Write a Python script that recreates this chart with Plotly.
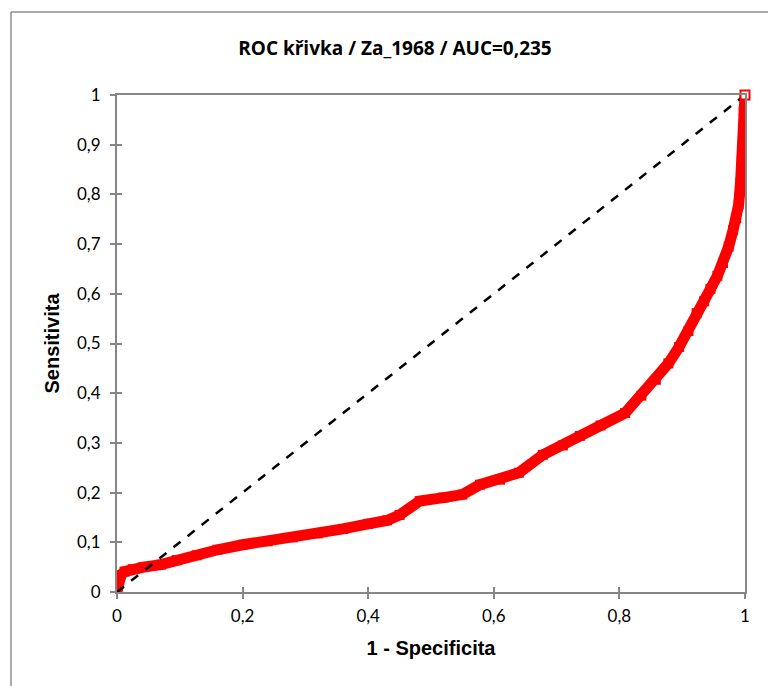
import plotly.graph_objects as go

# ROC curve points (1 - specificity, sensitivity)
fpr = [0.0, 0.001, 0.003, 0.006, 0.012, 0.025, 0.042, 0.07, 0.095, 0.127, 0.16,
       0.2, 0.24, 0.28, 0.32, 0.36, 0.4, 0.43, 0.45, 0.482, 0.52, 0.55, 0.578,
       0.61, 0.64, 0.678, 0.71, 0.737, 0.77, 0.809, 0.835, 0.858, 0.878, 0.895,
       0.91, 0.923, 0.935, 0.945, 0.956, 0.965, 0.974, 0.981, 0.986, 0.99,
       0.993, 0.995, 0.997, 0.998, 1.0]
tpr = [0.0, 0.012, 0.025, 0.034, 0.041, 0.046, 0.050, 0.055, 0.064, 0.074, 0.085,
       0.095, 0.102, 0.110, 0.118, 0.127, 0.137, 0.144, 0.155, 0.183, 0.190, 0.196, 0.216,
       0.226, 0.240, 0.276, 0.295, 0.314, 0.335, 0.360, 0.395, 0.427, 0.460, 0.493,
       0.525, 0.561, 0.585, 0.610, 0.636, 0.662, 0.695, 0.728, 0.752, 0.780,
       0.825, 0.869, 0.92, 0.968, 1.0]

diag = [0, 1]
x_ticks = [0, 0.2, 0.4, 0.6, 0.8, 1]
y_ticks = [0, 0.1, 0.2, 0.3, 0.4, 0.5, 0.6, 0.7, 0.8, 0.9, 1]

RED = "#ff0000"
GRID = "#868686"
FRAME = "#8c8c8c"

fig = go.Figure()

fig.add_trace(go.Scatter(
    x=fpr, y=tpr, mode="lines+markers",
    line=dict(color=RED, width=11),
    marker=dict(symbol="square", size=10, color=RED, line=dict(width=0)),
    hoverinfo="skip", showlegend=False,
))
fig.add_trace(go.Scatter(
    x=diag, y=diag, mode="lines",
    line=dict(color="black", width=2.5, dash="dash"),
    showlegend=False,
))
# last point drawn as hollow square marker
fig.add_trace(go.Scatter(
    x=fpr[-1:], y=tpr[-1:], mode="markers",
    marker=dict(symbol="square", size=9, color="white",
                line=dict(color=RED, width=2)),
    showlegend=False, cliponaxis=False,
))

tick_font = dict(family="Lato, Open Sans, sans-serif", size=17, color="black")
axis_common = dict(
    range=[0, 1], showgrid=False, zeroline=False,
    showline=True, linecolor=GRID, linewidth=2, mirror=True,
    ticks="outside", ticklen=5, tickwidth=2, tickcolor=GRID,
    tickfont=tick_font,
)
title_font = dict(family="Liberation Sans, Arial, sans-serif", size=20, color="black")

# chart frame: top and left edges (the rest runs off the page)
frame_left = (11 - 117) / 628
frame_top = (592 - 12) / 497

fig.update_layout(
    width=768, height=686,
    margin=dict(l=117, r=23, t=95, b=94),
    paper_bgcolor="white", plot_bgcolor="white",
    separators=", ",
    title=dict(
        text="<b>ROC křivka / Za_1968 / AUC=0,235</b>",
        x=(395 - 117) / 628, xref="paper", xanchor="center",
        y=1 - 48 / 686, yref="container", yanchor="middle",
        font=dict(family="Open Sans, sans-serif", size=19, color="black"),
    ),
    xaxis=dict(
        **axis_common, tickvals=x_ticks, ticklabelstandoff=3,
        title=dict(text="<b>1 - Specificita</b>", standoff=16, font=title_font),
    ),
    yaxis=dict(
        **axis_common, tickvals=y_ticks, ticklabelstandoff=6,
        title=dict(text="<b>Sensitivita</b>", standoff=12, font=title_font),
    ),
    # inner half of the crossing tick marks
    xaxis2=dict(range=[0, 1], overlaying="x", tickvals=x_ticks, ticks="inside",
                ticklen=5, tickwidth=2, tickcolor=GRID, showticklabels=False,
                showgrid=False, zeroline=False, showline=False),
    yaxis2=dict(range=[0, 1], overlaying="y", tickvals=y_ticks, ticks="inside",
                ticklen=5, tickwidth=2, tickcolor=GRID, showticklabels=False,
                showgrid=False, zeroline=False, showline=False),
    shapes=[
        dict(type="line", xref="paper", yref="paper",
             x0=frame_left, x1=1.3, y0=frame_top, y1=frame_top,
             line=dict(color=FRAME, width=1.5), layer="below"),
        dict(type="line", xref="paper", yref="paper",
             x0=frame_left, x1=frame_left, y0=frame_top, y1=-0.3,
             line=dict(color=FRAME, width=1.5), layer="below"),
    ],
)

# invisible trace to activate the overlay axes
fig.add_trace(go.Scatter(x=[None], y=[None], xaxis="x2", yaxis="y2",
                         showlegend=False, hoverinfo="skip"))

fig.write_html("out.html")
